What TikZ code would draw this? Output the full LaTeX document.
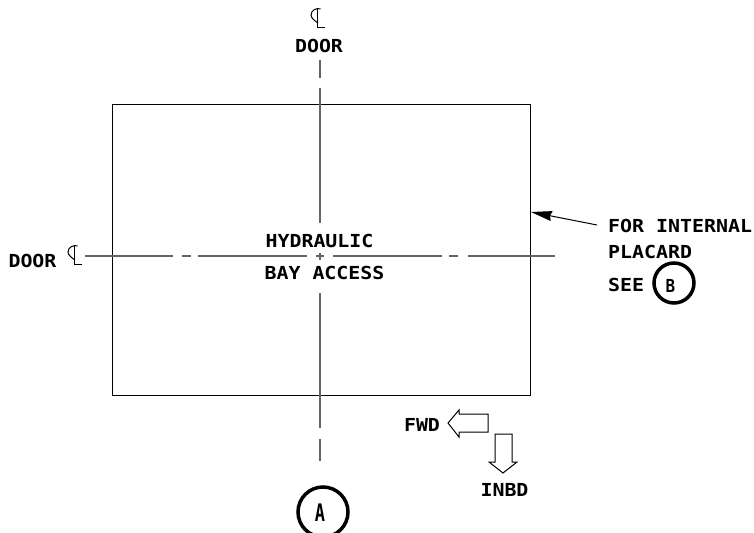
\documentclass[tikz,border=0pt]{standalone}
\usepackage{fontspec}
\setmainfont{DejaVu Sans Mono}
\usetikzlibrary{arrows.meta}
\definecolor{linecolor}{RGB}{100,100,100}
\tikzstyle{label} = [font=\fontsize{17}{20}\selectfont\bfseries, inner sep=0pt, text=black, yscale=0.9]
\tikzstyle{outline} = [draw=black, line width=0.03cm]
\tikzstyle{centerline} = [draw=linecolor, line width=0.045cm]
\tikzstyle{bubble} = [draw=black, line width=0.105cm]
\tikzstyle{leader} = [-{Stealth[length=0.63cm, width=0.3cm, inset=0.05cm]}, line width=0.03cm]
\tikzset{clmark/.pic={
    \draw[line width=0.03cm] (3.5,-7) .. controls (0,-8.5) and (-6,-6) .. (-6,-1) .. controls (-6,2) and (-2,5) .. (1,7);
    \draw[line width=0.03cm] (0,-8) -- (0,11) -- (8,11);
}}

\begin{document}
\begin{tikzpicture}[x=0.03cm, y=-0.03cm]
    \useasboundingbox (0, 0) rectangle (754, 533);

    % Panel
    \draw[outline] (112, 104) rectangle (530, 395);

    % Door centerlines
    \draw[centerline] (320, 60) -- (320, 78);
    \draw[centerline] (320, 88) -- (320, 223);
    \draw[centerline] (320, 253) -- (320, 260);
    \draw[centerline] (320, 293) -- (320, 428);
    \draw[centerline] (320, 439) -- (320, 461);
    \draw[centerline] (85, 256) -- (173, 256);
    \draw[centerline] (182, 256) -- (191, 256);
    \draw[centerline] (198, 256) -- (307, 256);
    \draw[centerline] (316, 256) -- (324, 256);
    \draw[centerline] (333, 256) -- (442, 256);
    \draw[centerline] (449, 256) -- (458, 256);
    \draw[centerline] (468, 256) -- (555, 256);

    \pic at (317, 16) {clmark};
    \pic at (74, 253) {clmark};

    % Labels
    \node[label] (door_top) at (319, 45.5) {DOOR};
    \node[label] (door_left) at (32.5, 261) {DOOR};
    \node[label] (hydraulic) at (319.5, 240.5) {HYDRAULIC};
    \node[label] (bay_access) at (324.5, 272.5) {BAY ACCESS};
    \node[label, anchor=west] (internal) at (608, 226) {FOR INTERNAL};
    \node[label, anchor=west] (placard) at (608, 251.5) {PLACARD};
    \node[label, anchor=west] (see) at (608, 285) {SEE};
    \node[label] (fwd) at (422, 425) {FWD};
    \node[label] (inbd) at (504.5, 489.5) {INBD};

    % Reference bubbles
    \node[bubble, circle, minimum size=1.2cm, inner sep=0pt] (bubble_b) at (674, 283) {};
    \node[label, xscale=0.8] (letter_b) at (670.5, 286) {B};
    \node[bubble, circle, minimum size=1.5cm, inner sep=0pt] (bubble_a) at (323, 512) {};
    \node[label, xscale=0.85, yscale=1.35] (letter_a) at (320, 513) {A};

    % Leader
    \coordinate (leader_tail) at (597, 225);
    \coordinate (leader_tip) at (531, 212);
    \draw[leader] (leader_tail) -- (leader_tip);

    % Direction arrows
    \draw[outline, line join=miter] (448, 423) -- (459, 410) -- (459, 414) -- (488, 414) -- (488, 432) -- (459, 432) -- (459, 437) -- cycle;
    \draw[outline, line join=miter] (495, 434) -- (512, 434) -- (512, 462) -- (517, 462) -- (503, 473) -- (489, 462) -- (495, 462) -- cycle;
\end{tikzpicture}
\end{document}
